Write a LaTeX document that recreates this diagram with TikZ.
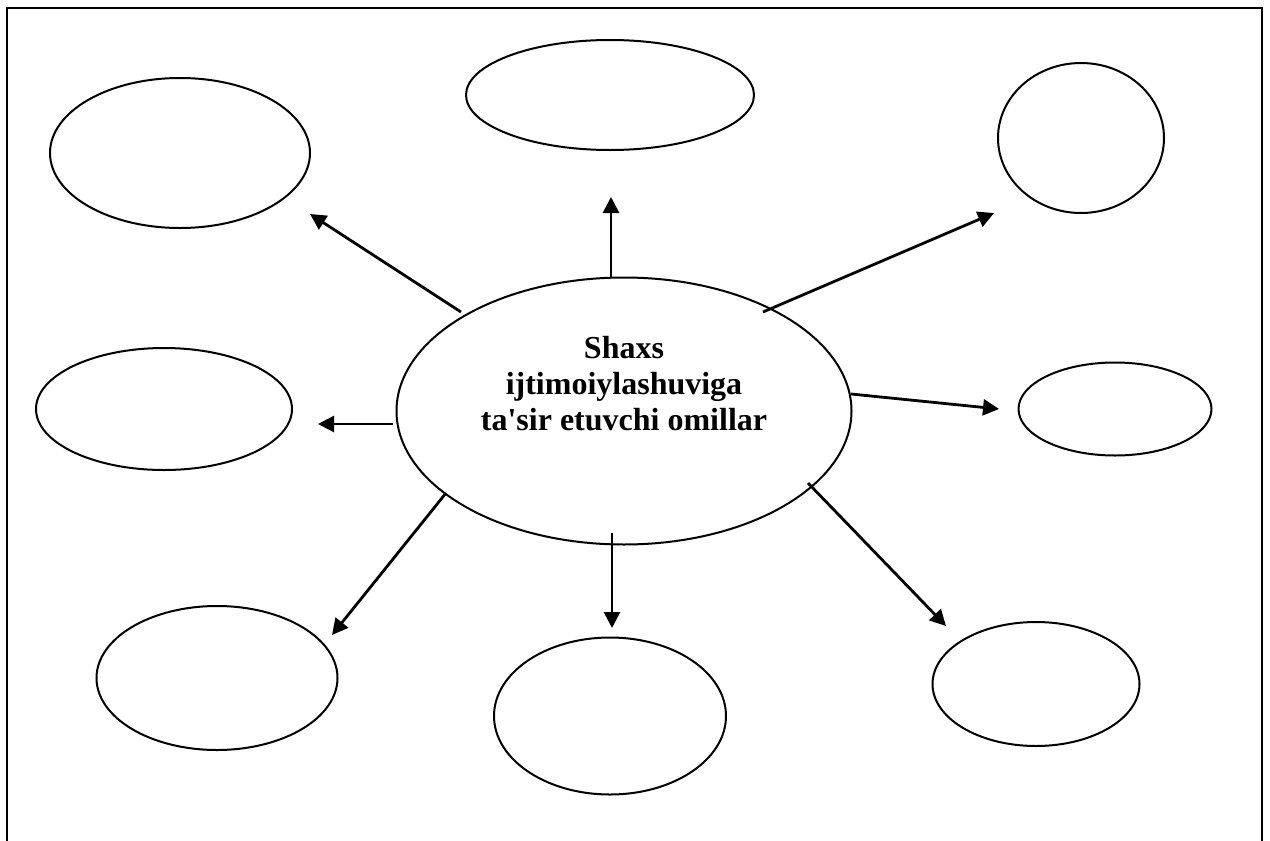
\documentclass[tikz,border=0pt]{standalone}
\usepackage{fontspec}
\setmainfont{Liberation Serif}
\newfontfamily\plainserif{Liberation Serif}
\usetikzlibrary{shapes.geometric,arrows.meta}
\begin{document}
\begin{tikzpicture}[x=1pt,y=-1pt,
  oval/.style={draw,ellipse,line width=2pt,inner sep=0pt},
  arr/.style={line width=2.8pt,-{Triangle[length=16pt,width=16pt]}}]
\useasboundingbox (0,0) rectangle (1270,841);
\draw[line width=1.8pt] (7,841) -- (7,8) -- (1262,8) -- (1262,841);
% ellipses
\node[oval,minimum width=260pt,minimum height=150pt] (tl) at (180,153) {};
\node[oval,minimum width=288pt,minimum height=110pt] (tc) at (610,95) {};
\node[oval,minimum width=166pt,minimum height=150pt] (tr) at (1081,138) {};
\node[oval,minimum width=256pt,minimum height=122pt] (ml) at (164,409) {};
\node[oval,minimum width=455pt,minimum height=267pt] (c) at (624,411) {};
\node[oval,minimum width=193pt,minimum height=93pt] (mr) at (1115,409) {};
\node[oval,minimum width=241pt,minimum height=144pt] (bl) at (217,678) {};
\node[oval,minimum width=232pt,minimum height=157pt] (bc) at (610,716) {};
\node[oval,minimum width=207pt,minimum height=124pt] (br) at (1036,684) {};
\node[align=center,font=\plainserif\fontsize{32}{36}\selectfont\bfseries] (ct) at (624,384)
  {Shaxs\\ijtimoiylashuviga\\ta'sir etuvchi omillar};
% arrow ends
\coordinate (s1) at (461,312); \coordinate (e1) at (310,214);
\coordinate (s2) at (611,277); \coordinate (e2) at (611,197);
\coordinate (s3) at (763,312); \coordinate (e3) at (994,213);
\coordinate (s4) at (393,424); \coordinate (e4) at (318,424);
\coordinate (s5) at (851,394); \coordinate (e5) at (999,409);
\coordinate (s6) at (446,493); \coordinate (e6) at (332,635);
\coordinate (s7) at (612,533); \coordinate (e7) at (612,628);
\coordinate (s8) at (808,483); \coordinate (e8) at (946,626);
\draw[arr] (s1) -- (e1);
\draw[arr] (s2) -- (e2);
\draw[arr] (s3) -- (e3);
\draw[arr] (s4) -- (e4);
\draw[arr] (s5) -- (e5);
\draw[arr] (s6) -- (e6);
\draw[arr] (s7) -- (e7);
\draw[arr] (s8) -- (e8);
\end{tikzpicture}
\end{document}
